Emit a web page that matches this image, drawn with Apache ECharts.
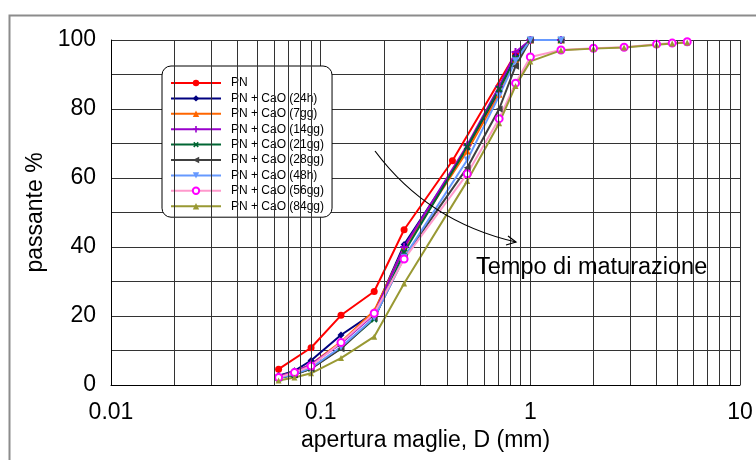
<!DOCTYPE html>
<html>
<head>
<meta charset="utf-8">
<script src="https://cdn.jsdelivr.net/npm/echarts@6/dist/echarts.min.js"></script>
<style>html,body{margin:0;padding:0;background:#fff;}#c{width:756px;height:460px;}</style>
</head>
<body>
<div id="c"></div>
<script>
// ---- data ----
var seriesNames = ['PN','PN + CaO (24h)','PN + CaO (7gg)','PN + CaO (14gg)','PN + CaO (21gg)','PN + CaO (28gg)','PN + CaO (48h)','PN + CaO (56gg)','PN + CaO (84gg)'];
var pnX = [0.063,0.09,0.125,0.18,0.25,0.425,0.85,1];
var pnY = [4.6,10.8,20.2,27.1,45,65,96,100];
var sievesShort = [0.063,0.075,0.09,0.125,0.18,0.25,0.5,0.71,0.85,1,1.4];
var sievesLong = [0.063,0.075,0.09,0.125,0.18,0.25,0.5,0.71,0.85,1,1.4,2,2.8,4,4.75,5.6];
var y24h = [2.7,4.1,7.1,14.5,21,40.7,68.5,85,95.5,100,100];
var y7gg = [2.5,3.8,6,12.5,21.5,39.7,67.8,84.3,94.5,100,100];
var y14gg = [2.5,3.8,6,12,20.5,40,69.5,86.5,96.5,100,100];
var y21gg = [2,3,4.8,10.7,19.1,38.5,69,85.8,94.7,100,100];
var y28gg = [2,3,4.7,10.5,19.5,37,63,80,92.4,100,100];
var y48h = [2,3.2,5,11,19.5,37,65.2,83.8,94,100,100];
var y56gg = [2.2,3.6,5.5,12.3,20.8,36.5,61.2,77.2,87.5,95.1,97.1,97.6,97.9,98.8,99.1,99.5];
var y84gg = [1.3,2.2,3.4,7.8,14,29.4,59.1,75.9,86.7,93.8,97,97.5,97.8,98.6,99,99.3];
var xTickLabels = ['0.01','0.1','1','10'];
var yTickLabels = [0,20,40,60,80,100];
var minorGridX = [0.02,0.03,0.04,0.05,0.06,0.07,0.08,0.09,0.2,0.3,0.4,0.5,0.6,0.7,0.8,0.9,2,3,4,5,6,7,8,9];

function pairs(xs, ys){ return ys.map(function(v,i){ return [xs[i], v]; }); }

var FONT = 'Liberation Sans, Arial, sans-serif';
var plusPath = 'path://M3,0H5V3H8V5H5V8H3V5H0V3H3Z';

function mk(name, xs, ys, color, symbol, size, extra){
  var s = {
    name: name, type: 'line', data: pairs(xs, ys),
    symbol: symbol, symbolSize: size,
    lineStyle: {color: color, width: 2},
    itemStyle: {color: color},
    emphasis: {disabled: true},
    animation: false
  };
  if (extra) for (var k in extra) s[k] = extra[k];
  return s;
}

var series = [
  mk(seriesNames[0], pnX, pnY, '#ff0000', 'circle', 7),
  mk(seriesNames[1], sievesShort, y24h, '#000080', 'diamond', 7),
  mk(seriesNames[2], sievesShort, y7gg, '#ff6600', 'triangle', 7),
  mk(seriesNames[3], sievesShort, y14gg, '#9900cc', plusPath, 8),
  mk(seriesNames[4], sievesShort, y21gg, '#006633', plusPath, 8, {symbolRotate: 45}),
  mk(seriesNames[5], sievesShort, y28gg, '#404040', 'triangle', 7, {symbolRotate: 90}),
  mk(seriesNames[6], sievesShort, y48h, '#6699ff', 'triangle', 7, {symbolRotate: 180}),
  mk(seriesNames[7], sievesLong, y56gg, '#ff00ff', 'emptyCircle', 7, {lineStyle: {color: '#ff99cc', width: 2}, itemStyle: {color: '#ff00ff', borderWidth: 1.5}}),
  mk(seriesNames[8], sievesLong, y84gg, '#999933', 'triangle', 6)
];

// minor vertical gridlines via markLine placed by the x scale
series.push({
  type: 'line', data: [], silent: true, animation: false,
  markLine: {
    silent: true, symbol: 'none', animation: false,
    label: {show: false},
    lineStyle: {color: '#333', width: 1, type: 'solid'},
    data: minorGridX.map(function(v){ return {xAxis: v}; })
  },
  z: 1
});

var chart = echarts.init(document.getElementById('c'));
chart.setOption({
  backgroundColor: '#fff',
  animation: false,
  grid: {left: 111, right: 16, top: 40, bottom: 75},
  xAxis: {
    type: 'log', logBase: 10, min: 0.01, max: 10,
    name: 'apertura maglie, D (mm)', nameLocation: 'middle', nameGap: 44,
    nameTextStyle: {fontFamily: FONT, fontSize: 23, color: '#000'},
    axisLine: {show: true, lineStyle: {color: '#000', width: 1}},
    axisTick: {show: false},
    axisLabel: {fontFamily: FONT, fontSize: 23, color: '#000', margin: 16,
      formatter: function(v){ var i = Math.round(Math.log10(v)) + 2; return xTickLabels[i] || ''; }},
    splitLine: {show: true, lineStyle: {color: '#333', width: 1}}
  },
  yAxis: {
    type: 'value', min: 0, max: 100, interval: 10,
    name: 'passante %', nameLocation: 'middle', nameGap: 62,
    nameTextStyle: {fontFamily: FONT, fontSize: 23, color: '#000'},
    axisLine: {show: true, lineStyle: {color: '#000', width: 1}},
    axisTick: {show: false},
    axisLabel: {fontFamily: FONT, fontSize: 23, color: '#000', margin: 15,
      formatter: function(v){ return yTickLabels.indexOf(v) >= 0 ? String(v) : ''; }},
    splitLine: {show: true, lineStyle: {color: '#333', width: 1}}
  },
  legend: {
    data: seriesNames,
    orient: 'vertical', left: 162, top: 66,
    itemWidth: 50, itemHeight: 8, itemGap: 3.4,
    padding: [11, 8, 5, 8],
    backgroundColor: '#fff', borderColor: '#000', borderWidth: 1, borderRadius: 9,
    textStyle: {fontFamily: FONT, fontSize: 12, color: '#000', lineHeight: 12, padding: [0, 0, 0, 5]},
    selectedMode: false
  },
  graphic: [
    {type: 'rect', shape: {x: 9.5, y: 15.5, width: 800, height: 500},
     style: {fill: null, stroke: '#8c8c8c', lineWidth: 2}, silent: true, z: 0},
    {type: 'bezierCurve', shape: {x1: 375, y1: 151, x2: 516, y2: 242, cpx1: 428, cpy1: 222},
     style: {fill: null, stroke: '#000', lineWidth: 1.2}, silent: true, z: 100},
    {type: 'polyline', shape: {points: [[508, 236], [516, 242], [506, 245]]},
     style: {fill: null, stroke: '#000', lineWidth: 1.2}, silent: true, z: 100},
    {type: 'text', left: 476, top: 256,
     style: {text: 'Tempo di maturazione', font: '23.5px ' + FONT, fill: '#000'}, silent: true, z: 100}
  ],
  series: series
});
</script>
</body>
</html>
